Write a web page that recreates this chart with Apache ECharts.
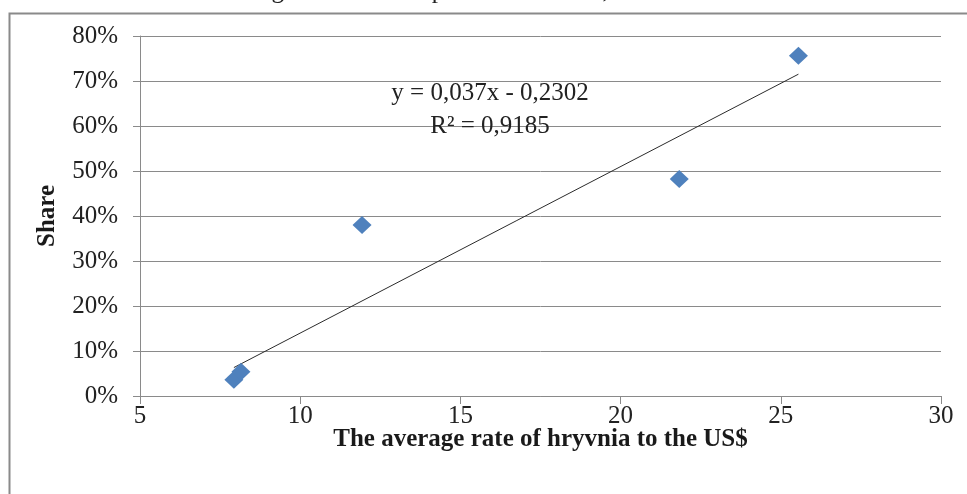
<!DOCTYPE html>
<html>
<head>
<meta charset="utf-8">
<script src="https://cdn.jsdelivr.net/npm/echarts@6/dist/echarts.min.js"></script>
<style>
html,body{margin:0;padding:0;background:#fff;}
#chart{width:967px;height:494px;}
</style>
</head>
<body>
<div id="chart"></div>
<script>
// Data
const rateUSD = [7.93, 8.15, 11.93, 21.83, 25.55];
const shareValues = [0.036, 0.054, 0.38, 0.482, 0.756];
const xTicks = [5, 10, 15, 20, 25, 30];
const yTickLabels = ['0%', '10%', '20%', '30%', '40%', '50%', '60%', '70%', '80%'];
// Printed trendline equation: y = 0,037x - 0,2302 ; R² = 0,9185
const trendSlope = 0.037;
const trendIntercept = -0.2302;
const equationText = 'y = 0,037x - 0,2302';
const r2Text = 'R² = 0,9185';
const titleText = 'for agricultural enterprises in Ukraine, 2010-2016';
const xAxisTitle = 'The average rate of hryvnia to the US$';
const yAxisTitle = 'Share';

const points = rateUSD.map((x, i) => [x, shareValues[i]]);
const xMin = Math.min(...rateUSD), xMax = Math.max(...rateUSD);
const trendPoints = [[xMin, trendSlope * xMin + trendIntercept], [xMax, trendSlope * xMax + trendIntercept]];

const FONT = '"Liberation Serif", "Times New Roman", serif';
const chart = echarts.init(document.getElementById('chart'), null, {renderer: 'canvas'});
chart.setOption({
  animation: false,
  backgroundColor: '#ffffff',
  grid: {left: 140, right: 26, top: 36, bottom: 98, containLabel: false},
  xAxis: {
    type: 'value', min: 5, max: 30, interval: 5,
    name: xAxisTitle, nameLocation: 'middle', nameGap: 31, nameMoveOverlap: false,
    nameTextStyle: {fontFamily: FONT, fontSize: 25, fontWeight: 'bold', color: '#1a1a1a'},
    axisLine: {show: true, lineStyle: {color: '#8a8a8a', width: 1}},
    axisTick: {show: true, length: 8, inside: false, lineStyle: {color: '#8a8a8a'}},
    axisLabel: {fontFamily: FONT, fontSize: 25, color: '#222', margin: 8,
      formatter: v => String(xTicks.includes(v) ? v : v)},
    splitLine: {show: false}
  },
  yAxis: {
    type: 'value', min: 0, max: 0.8, interval: 0.1,
    name: yAxisTitle, nameLocation: 'middle', nameGap: 80, nameRotate: 90, nameMoveOverlap: false,
    nameTextStyle: {fontFamily: FONT, fontSize: 25, fontWeight: 'bold', color: '#1a1a1a'},
    axisLine: {show: true, lineStyle: {color: '#8a8a8a', width: 1}},
    axisTick: {show: true, length: 7, inside: false, lineStyle: {color: '#8a8a8a'}},
    axisLabel: {fontFamily: FONT, fontSize: 25, color: '#222', margin: 22,
      formatter: v => yTickLabels[Math.round(v * 10)]},
    splitLine: {show: true, lineStyle: {color: '#8a8a8a', width: 1}}
  },
  graphic: [
    {type: 'rect', left: 7, top: 11, shape: {width: 1200, height: 800},
     style: {fill: 'none', stroke: '#8a8a8a', lineWidth: 2}, silent: true, z: 0},
    {type: 'text', x: 225, y: 4, style: {text: titleText, font: '25px ' + FONT, fill: '#222',
      textBaseline: 'alphabetic', textVerticalAlign: 'bottom'}, z: 1},
    {type: 'text', x: 490, y: 93, style: {text: equationText, font: '25px ' + FONT, fill: '#222',
      align: 'center', verticalAlign: 'middle'}, z: 5},
    {type: 'text', x: 490, y: 126, style: {text: r2Text, font: '25px ' + FONT, fill: '#222',
      align: 'center', verticalAlign: 'middle'}, z: 5}
  ],
  series: [
    {type: 'line', data: trendPoints, symbol: 'none', silent: true,
     lineStyle: {color: '#2b2b2b', width: 1}, z: 2},
    {type: 'scatter', data: points, symbol: 'diamond', symbolSize: [19, 18],
     itemStyle: {color: '#4F81BD', opacity: 1}, z: 3}
  ]
});
</script>
</body>
</html>
